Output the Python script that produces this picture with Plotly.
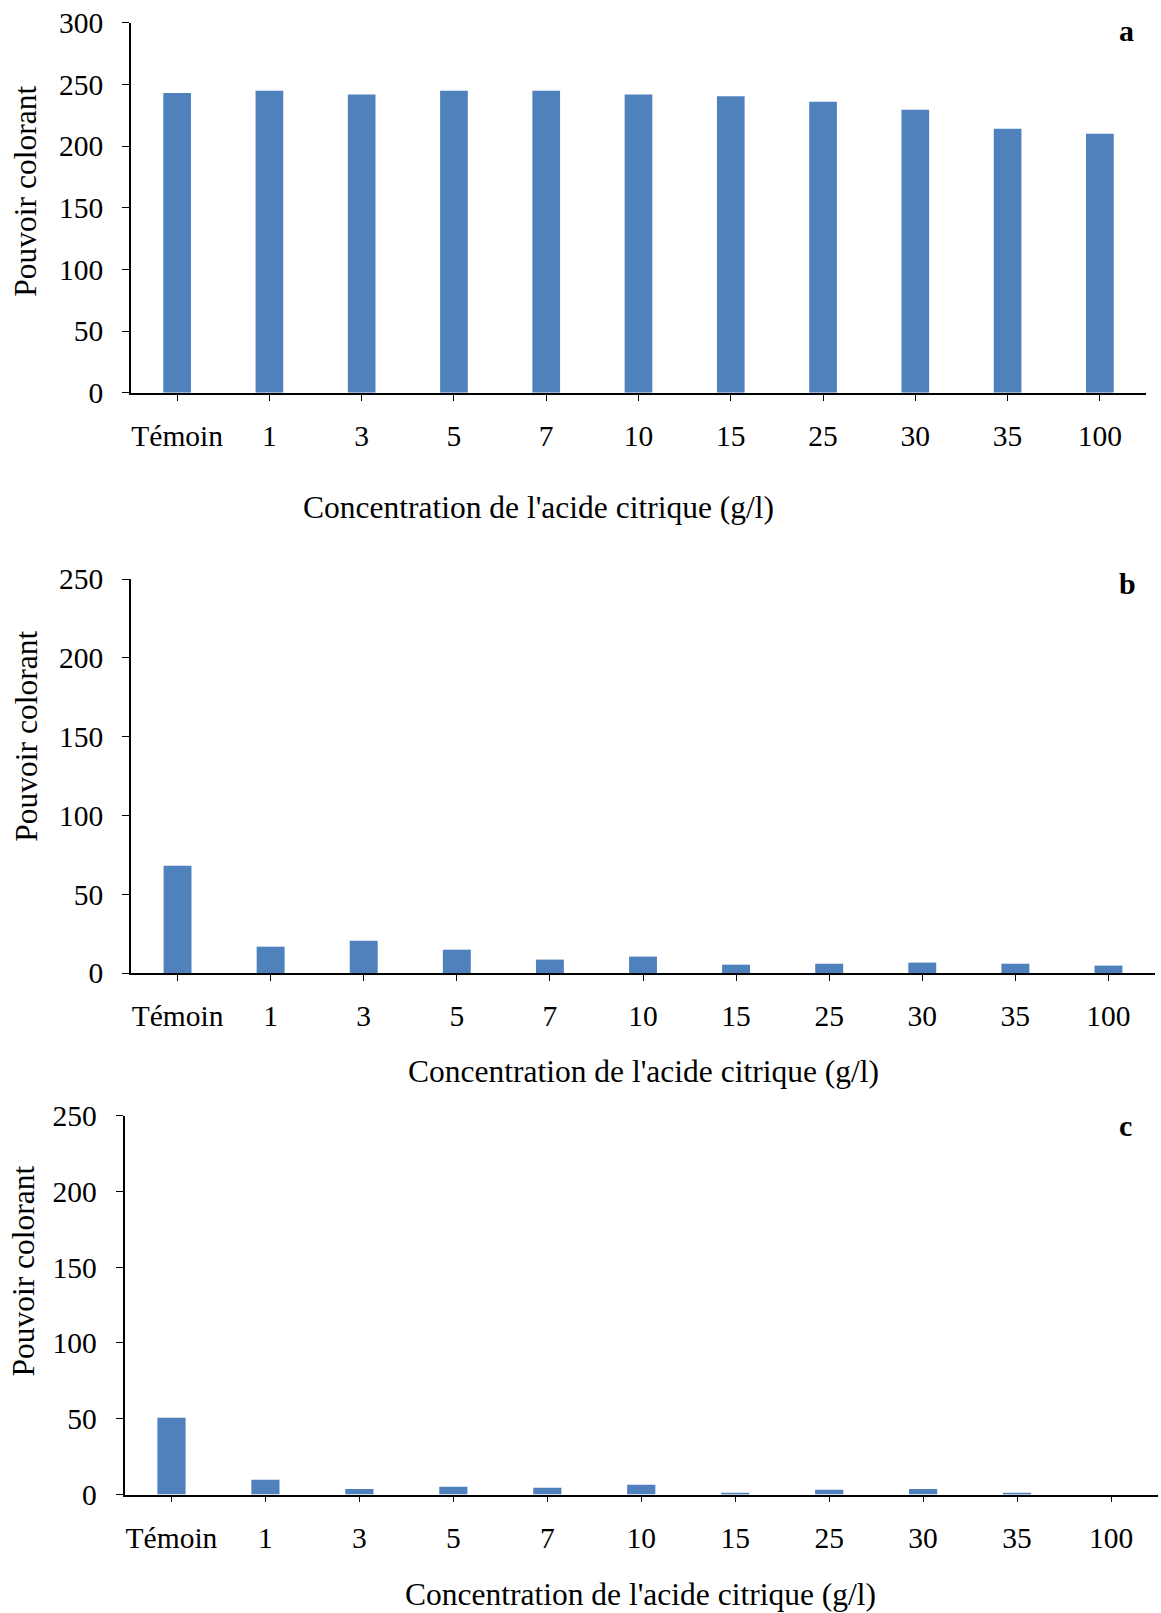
import plotly.graph_objects as go

categories = ["Témoin", "1", "3", "5", "7", "10", "15", "25", "30", "35", "100"]
values_a = [242.9, 244.7, 241.8, 244.7, 244.7, 241.8, 240.4, 235.8, 229.4, 214.0, 210.0]
values_b = [68.0, 16.7, 20.5, 14.8, 8.5, 10.4, 5.3, 5.9, 6.6, 5.9, 4.7]
values_c = [50.6, 9.7, 3.7, 5.1, 4.4, 6.4, 1.1, 3.1, 3.7, 1.1, 0.0]

yticks_a = [0, 50, 100, 150, 200, 250, 300]
yticks_bc = [0, 50, 100, 150, 200, 250]

x_title = "Concentration de l'acide citrique (g/l)"
y_title = "Pouvoir colorant"
panel_labels = ["a", "b", "c"]

W, H = 1161, 1613
FONT = "Liberation Serif"
BAR = "#4F81BD"
TICK_FS = 29.5
TITLE_FS = 31.5

fig = go.Figure()

panels = [
    # (values, yticks, xdomain px, ydomain px (bottom, top), xtitle pos, ytitle pos, label pos)
    (values_a, yticks_a, (131, 1146), (392.8, 22.6), (538, 508), (25.7, 191), (1126.5, 31)),
    (values_b, yticks_bc, (131, 1155), (973, 579), (643, 1071), (25.7, 736), (1127, 584)),
    (values_c, yticks_bc, (124.5, 1158), (1494.5, 1115.7), (640, 1594), (22.6, 1271), (1125, 1125)),
]

for i, (vals, yt, xd, yd, xtp, ytp, lp) in enumerate(panels):
    n = "" if i == 0 else str(i + 1)
    fig.add_trace(go.Bar(x=categories, y=vals, marker=dict(color=BAR, line=dict(width=0)),
                         width=0.3, xaxis="x" + n, yaxis="y" + n, showlegend=False))
    fig.layout["xaxis" + n] = dict(
        domain=[xd[0] / W, xd[1] / W], anchor="y" + n, type="category",
        range=[-0.5, len(categories) - 0.5], automargin=False,
        showline=True, linecolor="black", linewidth=1.5,
        ticks="outside", ticklen=6, tickwidth=1.2, tickcolor="black",
        tickfont=dict(family=FONT, size=TICK_FS, color="black"),
        ticklabelstandoff=10, showgrid=False, zeroline=False, fixedrange=True,
    )
    fig.layout["yaxis" + n] = dict(
        domain=[1 - yd[0] / H, 1 - yd[1] / H], anchor="x" + n,
        range=[0, yt[-1]], tickvals=yt, automargin=False,
        showline=True, linecolor="black", linewidth=1.5,
        ticks="outside", ticklen=7, tickwidth=1.2, tickcolor="black",
        tickfont=dict(family=FONT, size=TICK_FS, color="black"),
        ticklabelstandoff=13, showgrid=False, zeroline=False, fixedrange=True,
    )
    # end-of-axis tick
    fig.add_shape(type="line", xref="x" + n, yref="y" + n, x0=len(categories) - 0.5,
                  x1=len(categories) - 0.5, ysizemode="pixel", yanchor=0, y0=0, y1=-6,
                  line=dict(color="black", width=1.2))
    fig.add_annotation(text=x_title, xref="paper", yref="paper", x=xtp[0] / W, y=1 - xtp[1] / H,
                       xanchor="center", yanchor="middle", showarrow=False,
                       font=dict(family=FONT, size=TITLE_FS, color="black"))
    fig.add_annotation(text=y_title, xref="paper", yref="paper", x=ytp[0] / W, y=1 - ytp[1] / H,
                       xanchor="center", yanchor="middle", showarrow=False, textangle=-90,
                       font=dict(family=FONT, size=TITLE_FS, color="black"))
    fig.add_annotation(text="<b>" + panel_labels[i] + "</b>", xref="paper", yref="paper",
                       x=lp[0] / W, y=1 - lp[1] / H, xanchor="center", yanchor="middle",
                       showarrow=False, font=dict(family=FONT, size=30, color="black"))

fig.update_layout(width=W, height=H, margin=dict(l=0, r=0, t=0, b=0, autoexpand=False),
                  paper_bgcolor="white", plot_bgcolor="white", bargap=0.7)

fig.write_html("out.html")
